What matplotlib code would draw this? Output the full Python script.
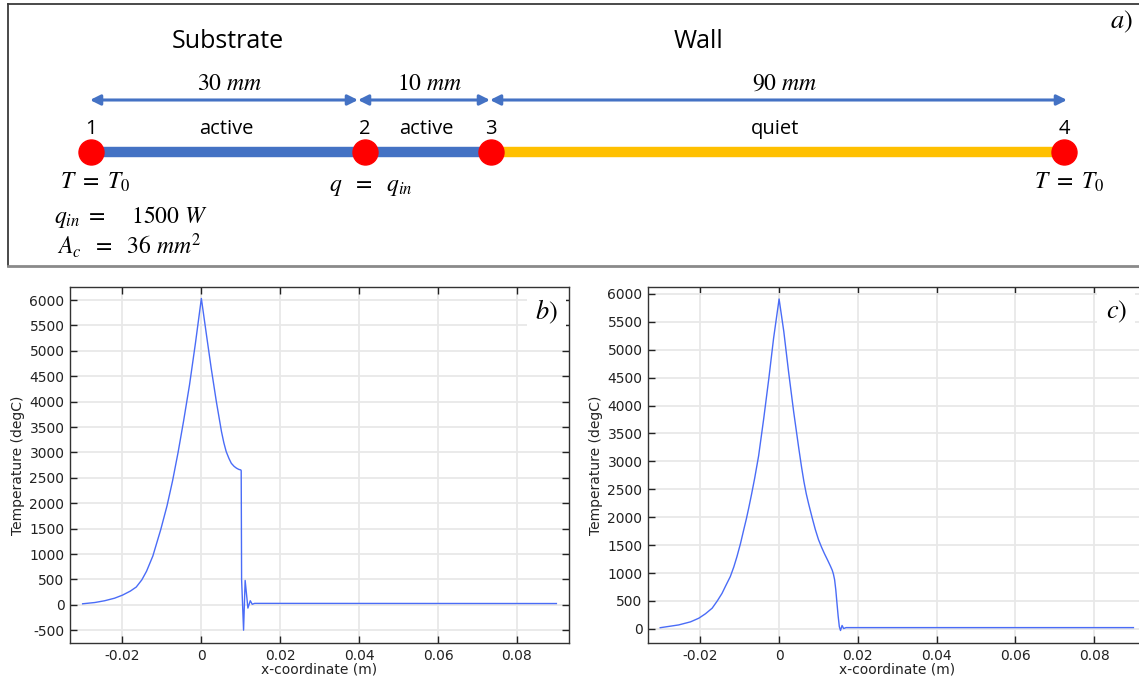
import matplotlib
matplotlib.use("Agg")
import matplotlib.pyplot as plt

plt.rcParams['mathtext.fontset'] = 'stix'
plt.rcParams['axes.unicode_minus'] = False

# schematic (panel a)
section_names = ["Substrate", "Wall"]
seg_lengths = [r"$30\ mm$", r"$10\ mm$", r"$90\ mm$"]
seg_states = ["active", "active", "quiet"]
node_ids = ["1", "2", "3", "4"]
params = [r"$q_{in}\ =\ \ \ \ 1500\ W$", r"$A_c\ \ =\ \ 36\ mm^2$"]

# temperature profile, panel b
x_b = [-0.0301, -0.0270, -0.0245, -0.0220, -0.0200, -0.0180, -0.0165, -0.0151,
       -0.0139, -0.0123, -0.0103, -0.0087, -0.0073, -0.0059, -0.0045, -0.0030,
       -0.0015, 0.0, 0.0013, 0.0025, 0.0038, 0.0051,
       0.0057, 0.0063, 0.0070, 0.0076, 0.0083, 0.0089, 0.0095, 0.0100, 0.0101,
       0.0102, 0.0107, 0.0111, 0.0118, 0.0124, 0.0129, 0.0135, 0.0900]
t_b = [20, 45, 80, 130, 190, 270, 350, 490,
       660, 960, 1480, 1950, 2440, 3000, 3620, 4330,
       5150, 6030, 5310, 4655, 4000, 3410,
       3190, 3015, 2880, 2785, 2725, 2690, 2665, 2655, 2640,
       500, -500, 480, -65, 80, 10, 28, 25]

# temperature profile, panel c
x_c = [-0.0302, -0.0255, -0.0225, -0.0204, -0.0187, -0.0170, -0.0157, -0.0145,
       -0.0135, -0.0124, -0.0115, -0.0107, -0.0098, -0.0090, -0.0083, -0.0077,
       -0.0070, -0.0062, -0.0052, -0.0039, -0.0026, -0.0014, 0.0, 0.0012, 0.0024,
       0.0037, 0.0050, 0.0057, 0.0063, 0.0069, 0.0075, 0.0084, 0.0092, 0.0100,
       0.0108, 0.0115, 0.0124, 0.0130, 0.0135, 0.0138, 0.0141, 0.0144, 0.0147,
       0.0150, 0.0153, 0.0156, 0.0160, 0.0164, 0.0170, 0.0900]
t_c = [20, 70, 125, 190, 270, 370, 500, 635,
       780, 935, 1110, 1295, 1530, 1770, 1975, 2170,
       2410, 2700, 3100, 3770, 4490, 5205, 5910, 5325, 4610,
       3890, 3235, 2900, 2640, 2420, 2240, 1990, 1780, 1600,
       1460, 1350, 1220, 1130, 1050, 980, 880, 700, 460,
       230, 40, -30, 60, 5, 22, 22]

x_ticks = [-0.02, 0, 0.02, 0.04, 0.06, 0.08]
x_ticklabels = ["-0.02", "0", "0.02", "0.04", "0.06", "0.08"]

W, H = 1139, 684
fig = plt.figure(figsize=(W / 100, H / 100), dpi=100)

# ---- panel a : schematic, drawn in pixel-like coords
ax0 = fig.add_axes([0, (H - 270) / H, 1, 270 / H])
ax0.set_xlim(0, W)
ax0.set_ylim(270, 0)
ax0.axis('off')

ax0.plot([8, W], [4, 4], color='#3a3a3a', lw=1.3)
ax0.plot([8, 8], [4, 266], color='#3a3a3a', lw=1.3)
ax0.plot([8, W], [266, 266], color='#8a8a8a', lw=2)

node_x = [91, 365, 491, 1064]
arrow_x = [90, 358, 490, 1067]
bar_y, arrow_y = 152, 100
blue, orange = '#4472C4', '#FFC000'
sans = 'Open Sans'
mfs = 17

ax0.plot(node_x[:3], [bar_y] * 3, color=blue, lw=7.5, solid_capstyle='butt', zorder=2)
ax0.plot(node_x[2:], [bar_y] * 2, color=orange, lw=7.5, solid_capstyle='butt', zorder=2)
ax0.plot(node_x, [bar_y] * 4, 'o', color='#FF0000', ms=18, zorder=3)

for i in range(3):
    ax0.annotate('', xy=(arrow_x[i + 1], arrow_y), xytext=(arrow_x[i], arrow_y),
                 arrowprops=dict(arrowstyle='<|-|>,head_length=0.6,head_width=0.3',
                                 color=blue, lw=2.2, shrinkA=0, shrinkB=0))
    ax0.text((arrow_x[i] + arrow_x[i + 1]) / 2 + 6, 83, seg_lengths[i],
             fontsize=mfs, ha='center', va='center')
    ax0.text((node_x[i] + node_x[i + 1]) / 2 - 2, 129, seg_states[i],
             fontsize=14.5, family=sans, ha='center', va='center')

for xi, nid in zip(node_x, node_ids):
    ax0.text(xi, 129, nid, fontsize=14.5, family=sans, ha='center', va='center')

ax0.text(228, 42, section_names[0], fontsize=18, family=sans, ha='center', va='center')
ax0.text(699, 42, section_names[1], fontsize=18, family=sans, ha='center', va='center')

ax0.text(95, 182, r"$T\ =\ T_0$", fontsize=mfs, ha='center', va='center')
ax0.text(1069, 182, r"$T\ =\ T_0$", fontsize=mfs, ha='center', va='center')
ax0.text(371, 186, r"$q\ \ =\ \ q_{in}$", fontsize=mfs, ha='center', va='center')
ax0.text(54, 217, params[0], fontsize=mfs, ha='left', va='center')
ax0.text(57, 246, params[1], fontsize=mfs, ha='left', va='center')
ax0.text(1121, 22, r"$a)$", fontsize=19, ha='center', va='center')


def temp_panel(rect, x, t, ylim, yticks, tag):
    ax = fig.add_axes(rect)
    ax.plot(x, t, color='#4a6cf7', lw=1.0)
    ax.set_xlim(-0.0333, 0.0932)
    ax.set_ylim(*ylim)
    ax.set_xticks(x_ticks)
    ax.set_xticklabels(x_ticklabels)
    ax.set_yticks(yticks)
    ax.set_yticklabels([str(v) for v in yticks])
    ax.grid(True, color='#e8e8e8', lw=1.3)
    ax.set_axisbelow(True)
    ax.tick_params(direction='in', length=5, width=1, top=True, right=True,
                   labelsize=10, colors='#222222', pad=4)
    for s in ax.spines.values():
        s.set_color('#333333')
        s.set_linewidth(1)
    ax.set_xlabel('x-coordinate (m)', fontsize=10, color='#222222', labelpad=0)
    ax.set_ylabel('Temperature (degC)', fontsize=10, color='#222222', labelpad=3)
    ax.text(0.955, 0.93, tag, transform=ax.transAxes, fontsize=19,
            ha='center', va='center',
            bbox=dict(facecolor='white', edgecolor='none', pad=6))
    return ax


ax_b = temp_panel([70 / W, 41 / H, 499 / W, 356 / H], x_b, t_b,
                  (-752, 6256), list(range(-500, 6001, 500)), r"$b)$")
ax_c = temp_panel([648 / W, 41 / H, 498 / W, 356 / H], x_c, t_c,
                  (-254, 6125), list(range(0, 6001, 500)), r"$c)$")
ax_c.texts[0].set_position((0.94, 0.93))

fig.savefig('out.png', dpi=100)
